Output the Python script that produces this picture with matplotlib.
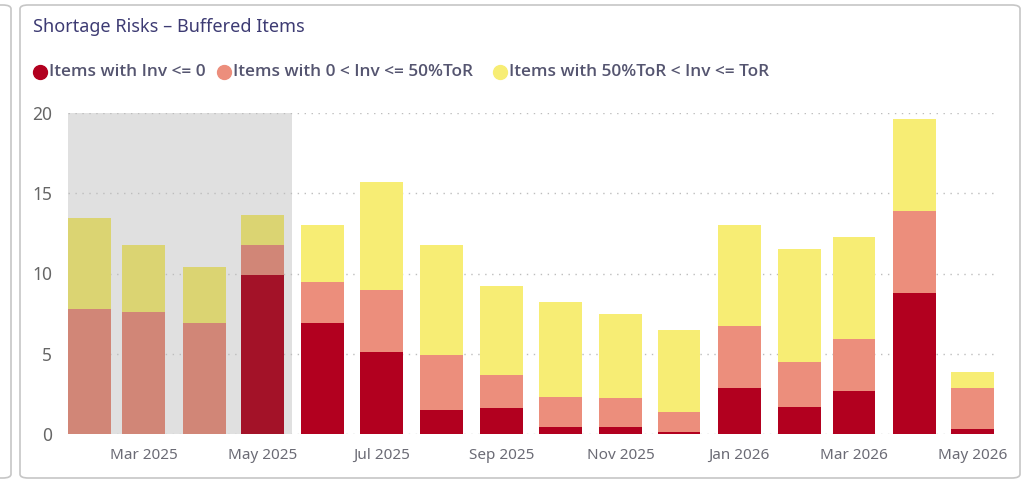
import datetime as dt
import matplotlib
matplotlib.use("Agg")
import matplotlib.pyplot as plt
import matplotlib.dates as mdates
from matplotlib.patches import FancyBboxPatch
from matplotlib.lines import Line2D

# data (stacked segments per month)
months = [dt.date(2025, m, 1) for m in range(2, 13)] + [dt.date(2026, m, 1) for m in range(1, 6)]
inv_zero = [0, 0, 0, 9.9, 6.9, 5.1, 1.5, 1.6, 0.45, 0.45, 0.1, 2.85, 1.7, 2.7, 8.8, 0.3]
inv_half = [7.8, 7.6, 6.9, 1.85, 2.55, 3.9, 3.4, 2.1, 1.85, 1.8, 1.3, 3.85, 2.8, 3.2, 5.1, 2.55]
inv_tor = [5.65, 4.15, 3.5, 1.9, 3.6, 6.7, 6.9, 5.5, 5.9, 5.25, 5.1, 6.3, 7.05, 6.4, 5.7, 1.0]
labels = ["Items with Inv <= 0", "Items with 0 < Inv <= 50%ToR", "Items with 50%ToR < Inv <= ToR"]
shade_end = dt.date(2025, 5, 16)

colors = ["#b2001f", "#ec8e7c", "#f7ed74"]
muted = ["#a31228", "#d18677", "#dbd472"]

plt.rcParams["font.family"] = ["Noto Sans", "DejaVu Sans"]

fig = plt.figure(figsize=(10.25, 4.82), dpi=100)

# card borders
for bx, bw in [(20, 1000), (-30, 41)]:
    fig.patches.append(FancyBboxPatch((bx / 1025, 4 / 482), bw / 1025, 473 / 482,
                                      boxstyle="round,pad=0,rounding_size=0.008",
                                      transform=fig.transFigure, fc="none", ec="#c6c6c6",
                                      lw=1.2, zorder=-1))

ax = fig.add_axes([68 / 1025, 1 - 434 / 482, 930 / 1025, 321 / 482])
ax.set_facecolor("none")

width = 22
x0 = months[0] - dt.timedelta(days=11.3)
x1 = months[-1] + dt.timedelta(days=13)
ax.axvspan(x0, shade_end, color="#e0e0e0", lw=0, zorder=0)

for i, m in enumerate(months):
    cols = muted if m < shade_end else colors
    bottom = 0
    for j, vals in enumerate([inv_zero, inv_half, inv_tor]):
        ax.bar(m, vals[i], width=width, bottom=bottom, color=cols[j], zorder=2)
        bottom += vals[i]

ax.set_xlim(x0, x1)
ax.set_ylim(0, 20)
ax.set_yticks([0, 5, 10, 15, 20])
ax.grid(axis="y", color="#bdbdbd", linestyle=(0, (1, 4)), lw=1, zorder=1)
for s in ax.spines.values():
    s.set_visible(False)

ax.xaxis.set_major_locator(mdates.MonthLocator(bymonth=[1, 3, 5, 7, 9, 11]))
ax.xaxis.set_major_formatter(mdates.DateFormatter("%b %Y"))
ax.tick_params(axis="both", length=0, labelsize=11, colors="#6b6b75")
ax.tick_params(axis="x", pad=10)
ax.tick_params(axis="y", pad=11.5, labelsize=12.5, labelcolor="#666666")

fig.text(33 / 1025, 1 - 27 / 482, "Shortage Risks \u2013 Buffered Items", fontsize=13,
         color="#3d3b73", va="center", ha="left")

leg_x = [40, 224, 500]
leg_y = 1 - 72 / 482
for lx, lab, c in zip(leg_x, labels, colors):
    fig.add_artist(Line2D([lx / 1025], [leg_y], marker="o", ms=10, color=c, lw=0,
                          transform=fig.transFigure))
    fig.text((lx + 9) / 1025, leg_y, lab, fontsize=12.4, color="#555570",
             fontweight="semibold", va="center", ha="left", family="Open Sans")

fig.savefig("out.png", dpi=100)
